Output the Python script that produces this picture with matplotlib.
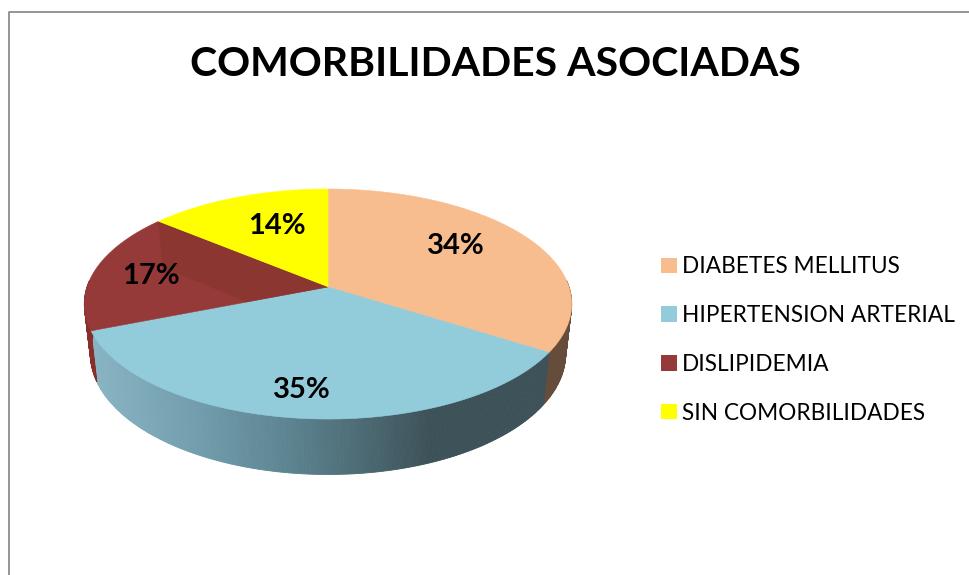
import numpy as np
import matplotlib
matplotlib.use("Agg")
import matplotlib.pyplot as plt
from matplotlib.patches import Polygon, Patch

# Data
categories = ["DIABETES MELLITUS", "HIPERTENSION ARTERIAL", "DISLIPIDEMIA", "SIN COMORBILIDADES"]
values = [34, 35, 17, 14]
top_colors = ["#f8bd8e", "#92cbda", "#953a38", "#ffff00"]
side_colors = ["#664c3a", "#3d5257", "#8a2e2c", "#8a8a00"]
title = "COMORBILIDADES ASOCIADAS"

plt.rcParams["font.family"] = ["Lato", "DejaVu Sans"]

# pseudo 3D pie: a perspective view of the top and bottom discs
CX = 328
K = 0.148
TOP = dict(ay=287, A=241, B=112.5)
BOTTOM = dict(ay=336, A=235, B=118)


def project(angle, plane, r=1.0):
    # angle in radians, clockwise from 12 o'clock
    u = r * np.sin(angle)
    v = r * np.cos(angle)
    w = 1 + K * v
    return CX + plane["A"] * u / w, plane["ay"] - plane["B"] * v / w


def blue_side(x):
    # horizontal shading of the front wall
    stops_x = [95, 200, 300, 430, 560]
    stops_r = [0x88, 0x70, 0x5a, 0x3d, 0x3d]
    stops_g = [0xb3, 0x9c, 0x80, 0x52, 0x52]
    stops_b = [0xc3, 0xab, 0x8d, 0x58, 0x58]
    return (np.interp(x, stops_x, stops_r) / 255,
            np.interp(x, stops_x, stops_g) / 255,
            np.interp(x, stops_x, stops_b) / 255)


fig = plt.figure(figsize=(9.69, 5.75), dpi=100)
ax = fig.add_axes([0, 0, 1, 1])
ax.set_xlim(0, 969)
ax.set_ylim(575, 0)
ax.axis("off")

# chart frame, only left and top are visible
ax.plot([969, 9.5, 9.5], [12, 12, 575], color="#8c8c8c", lw=1.3, zorder=1)

edges = np.radians(np.cumsum([0] + values) * 3.6)

# side wall, the back half is hidden by the top anyway
for i in range(len(values)):
    steps = np.linspace(edges[i], edges[i + 1], int(values[i] * 6) + 2)
    for a0, a1 in zip(steps[:-1], steps[1:]):
        if np.cos(a0) > 0.05 and np.cos(a1) > 0.05:
            continue
        x0, y0 = project(a0, TOP)
        x1, y1 = project(a1, TOP)
        x2, y2 = project(a1, BOTTOM)
        x3, y3 = project(a0, BOTTOM)
        color = blue_side((x0 + x1) / 2) if i == 1 else side_colors[i]
        ax.add_patch(Polygon([(x0, y0), (x1, y1), (x2, y2), (x3, y3)], closed=True,
                             facecolor=color, edgecolor=color, lw=0.6, zorder=2))

# top surface
wedges = []
for i in range(len(values)):
    arc = np.linspace(edges[i], edges[i + 1], 120)
    xs, ys = project(arc, TOP)
    pts = [(CX, TOP["ay"])] + list(zip(xs, ys))
    wedge = Polygon(pts, closed=True, facecolor=top_colors[i], edgecolor=top_colors[i], lw=0.4, zorder=3)
    ax.add_patch(wedge)
    wedges.append(wedge)

# darker inner wall that shows through the red slice
rx, ry = project(edges[3], TOP)
bx, by = project(edges[3], BOTTOM)
wall = Polygon([(rx, ry), (bx, by), (CX, BOTTOM["ay"]), (CX, TOP["ay"])], closed=True,
               facecolor="#8c3632", edgecolor="none", zorder=4)
ax.add_patch(wall)
wall.set_clip_path(wedges[2])

# percent labels
label_x = [455.5, 301.5, 150.5, 276.5]
label_y = [246.5, 390.5, 276.5, 226.5]
for px, py, v in zip(label_x, label_y, values):
    ax.text(px, py, f"{v}%", fontsize=21, fontweight="bold", color="black",
            ha="center", va="center", zorder=5)

ax.text(495, 64, title, fontsize=29.5, fontweight="bold", color="black", ha="center", va="center")

handles = [Patch(facecolor=c, edgecolor="none") for c in top_colors]
ax.legend(handles, categories, loc="center left", bbox_to_anchor=(650 / 969, 1 - 340 / 575),
          frameon=False, fontsize=16.3, handlelength=0.68, handleheight=0.68, handletextpad=0.25,
          labelspacing=1.225, borderpad=0, borderaxespad=0.5)

fig.savefig("out.png", dpi=100)
